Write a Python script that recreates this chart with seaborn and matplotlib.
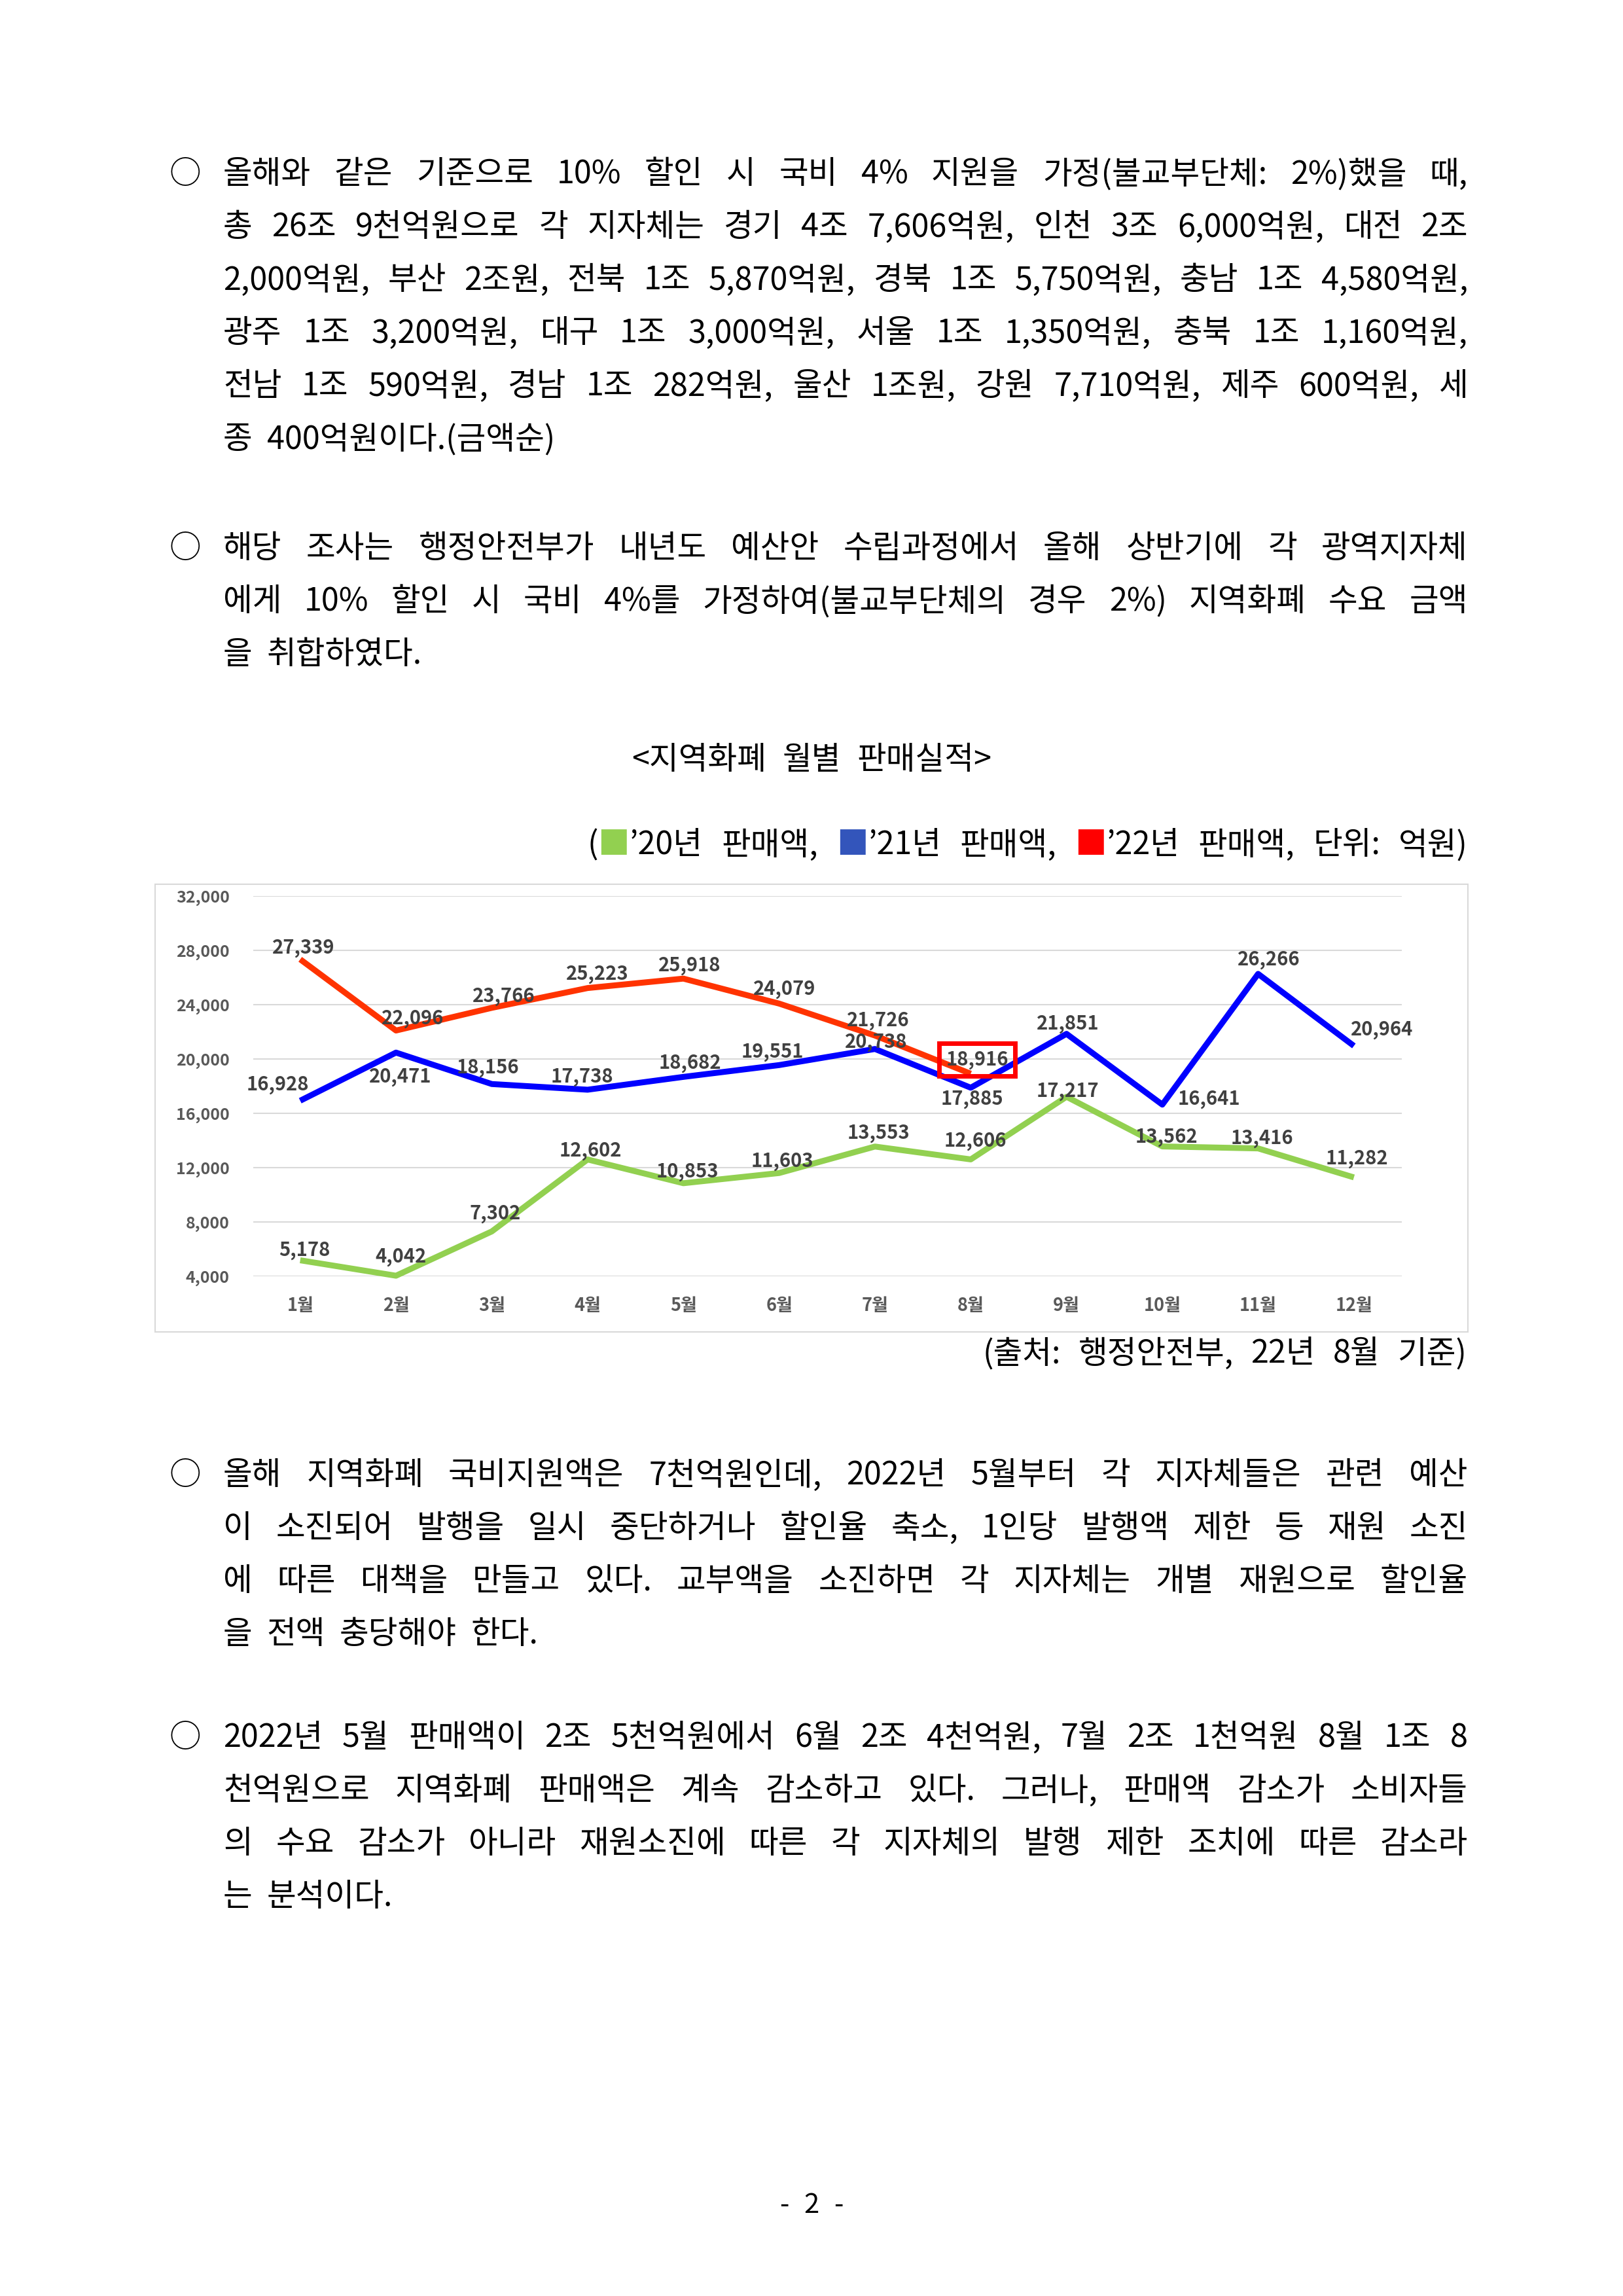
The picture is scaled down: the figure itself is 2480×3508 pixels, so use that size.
import numpy as np
import pandas as pd
import matplotlib
matplotlib.use('Agg')
import matplotlib.pyplot as plt
from matplotlib.patches import Rectangle
import seaborn as sns

# ---- chart data (억원) ----
months = ['1월', '2월', '3월', '4월', '5월', '6월', '7월', '8월', '9월', '10월', '11월', '12월']
sales_2020 = [5178, 4042, 7302, 12602, 10853, 11603, 13553, 12606, 17217, 13562, 13416, 11282]
sales_2021 = [16928, 20471, 18156, 17738, 18682, 19551, 20738, 17885, 21851, 16641, 26266, 20964]
sales_2022 = [27339, 22096, 23766, 25223, 25918, 24079, 21726, 18916]
year_names = ['2020', '2021', '2022']
y_ticks = [4000, 8000, 12000, 16000, 20000, 24000, 28000, 32000]

# ---- page text ----
para1 = [
    '올해와 같은 기준으로 10% 할인 시 국비 4% 지원을 가정(불교부단체: 2%)했을 때,',
    '총 26조 9천억원으로 각 지자체는 경기 4조 7,606억원, 인천 3조 6,000억원, 대전 2조',
    '2,000억원, 부산 2조원, 전북 1조 5,870억원, 경북 1조 5,750억원, 충남 1조 4,580억원,',
    '광주 1조 3,200억원, 대구 1조 3,000억원, 서울 1조 1,350억원, 충북 1조 1,160억원,',
    '전남 1조 590억원, 경남 1조 282억원, 울산 1조원, 강원 7,710억원, 제주 600억원, 세',
    '종 400억원이다.(금액순)',
]
para2 = [
    '해당 조사는 행정안전부가 내년도 예산안 수립과정에서 올해 상반기에 각 광역지자체',
    '에게 10% 할인 시 국비 4%를 가정하여(불교부단체의 경우 2%) 지역화폐 수요 금액',
    '을 취합하였다.',
]
para3 = [
    '올해 지역화폐 국비지원액은 7천억원인데, 2022년 5월부터 각 지자체들은 관련 예산',
    '이 소진되어 발행을 일시 중단하거나 할인율 축소, 1인당 발행액 제한 등 재원 소진',
    '에 따른 대책을 만들고 있다. 교부액을 소진하면 각 지자체는 개별 재원으로 할인율',
    '을 전액 충당해야 한다.',
]
para4 = [
    '2022년 5월 판매액이 2조 5천억원에서 6월 2조 4천억원, 7월 2조 1천억원 8월 1조 8',
    '천억원으로 지역화폐 판매액은 계속 감소하고 있다. 그러나, 판매액 감소가 소비자들',
    '의 수요 감소가 아니라 재원소진에 따른 각 지자체의 발행 제한 조치에 따른 감소라',
    '는 분석이다.',
]
chart_title = '<지역화폐 월별 판매실적>'
legend_years = ['’20년', '’21년', '’22년']
legend_word = '판매액,'
unit_words = ['단위:', '억원)']
source_text = '(출처: 행정안전부, 22년 8월 기준)'
page_no = '- 2 -'

# ---- styles ----
line_colors = {'2020': '#92D050', '2021': '#0000FF', '2022': '#FF3300'}
square_colors = ['#92D050', '#3355BB', '#FF0000']
# label offsets in page pixels (dx right, dy down)
offs_2020 = [(7, -19), (7, -32), (5, -31), (5, -17), (6, -21), (5, -21), (5, -24), (7, -32), (2, -12), (6, -18), (6, -19), (5, -32)]
offs_2021 = [(-34, -28), (7, 34), (-6, -28), (-8, -23), (10, -25), (-10, -24), (2, -14), (2, 14), (2, -19), (71, -12), (16, -25), (43, -28)]
offs_2022 = [(5, -21), (26, -22), (18, -21), (15, -25), (10, -23), (8, -26), (5, -26), (10, -25)]

W, H = 2480, 3508
sns.set_theme(style='white')
plt.rcParams['font.family'] = ['Noto Sans CJK KR', 'DejaVu Sans']

fig = plt.figure(figsize=(W / 100, H / 100), dpi=100)
fig.patch.set_facecolor('white')
renderer = fig.canvas.get_renderer()

BODY = 35
EM = BODY * 100 / 72


def fx(x):
    return x / W


def fy(y):
    return 1 - y / H


def put_line(tokens, y_mid, x0, x1, mode, size=BODY, gap_em=0.45):
    # tokens: list of words, each a list of (text, colour) runs
    em = size * 100 / 72
    base = y_mid + 0.38 * em
    pieces, widths = [], []
    for tok in tokens:
        parts, w = [], 0
        for s, c in tok:
            t = fig.text(0, 0, s, fontsize=size, color=c, ha='left', va='baseline')
            pw = t.get_window_extent(renderer).width
            parts.append((t, pw))
            w += pw
        pieces.append(parts)
        widths.append(w)
    if mode == 'justify' and len(tokens) > 1:
        gap = (x1 - x0 - sum(widths)) / (len(tokens) - 1)
    else:
        gap = gap_em * em
    total = sum(widths) + gap * (len(tokens) - 1)
    if mode == 'right':
        x = x1 - total
    elif mode == 'center':
        x = (x0 + x1) / 2 - total / 2
    else:
        x = x0
    for parts, w in zip(pieces, widths):
        xx = x
        for t, pw in parts:
            t.set_position((fx(xx), fy(base)))
            xx += pw
        x += w + gap


def put_paragraph(lines, y_first, step=81):
    fig.text(fx(283), fy(y_first + 0.38 * EM), '○', fontsize=BODY, ha='center', va='baseline', color='black')
    for i, line in enumerate(lines):
        mode = 'justify' if i < len(lines) - 1 else 'left'
        tokens = [[(w, 'black')] for w in line.split(' ')]
        put_line(tokens, y_first + i * step, 341, 2243, mode)


put_paragraph(para1, 262)
put_paragraph(para2, 834)
put_paragraph(para3, 2250)
put_paragraph(para4, 2651)

# chart title
put_line([[(w, 'black')] for w in chart_title.split(' ')], 1157, 0, 2480, 'center', gap_em=0.5)

# legend line
legend_tokens = []
for i, (yr, col) in enumerate(zip(legend_years, square_colors)):
    first = [('(', 'black')] if i == 0 else []
    legend_tokens.append(first + [('■', col), (yr, 'black')])
    legend_tokens.append([(legend_word, 'black')])
for w in unit_words:
    legend_tokens.append([(w, 'black')])
put_line(legend_tokens, 1287, 897, 2243, 'justify')

# source note
put_line([[(w, 'black')] for w in source_text.split(' ')], 2064, 0, 2241, 'right', gap_em=0.55)

# page number
put_line([[(w, 'black')] for w in page_no.split(' ')], 3365, 0, 2480, 'center', size=30, gap_em=0.55)

# chart frame
fig.add_artist(Rectangle((fx(237), fy(2035)), (2243 - 237) / W, (2035 - 1351) / H,
                         transform=fig.transFigure, fill=False, ec='#D9D9D9', lw=1.5))

# ---- line chart ----
ax = fig.add_axes([fx(387), fy(1950), (2142 - 387) / W, (1950 - 1369) / H])
ax.set_facecolor('none')

frames = []
for name, vals in zip(year_names, [sales_2020, sales_2021, sales_2022]):
    frames.append(pd.DataFrame({'pos': np.arange(len(vals)), 'value': vals, 'year': name}))
df = pd.concat(frames, ignore_index=True)

sns.lineplot(data=df, x='pos', y='value', hue='year', hue_order=year_names,
             palette=line_colors, linewidth=6.5, legend=False, sort=False, ax=ax)
for ln in ax.lines:
    ln.set_clip_on(False)
    ln.set_solid_capstyle('butt')

ax.set_xlim(-0.49, 11.5)
ax.set_ylim(4000, 32000)
ax.set_xticks(np.arange(len(months)))
ax.set_xticklabels(months)
ax.set_yticks(y_ticks)
ax.set_yticklabels([f'{v:,}' for v in y_ticks])
ax.set_xlabel('')
ax.set_ylabel('')
ax.yaxis.grid(True, color='#D9D9D9', lw=1.5)
ax.xaxis.grid(False)
ax.set_axisbelow(True)
sns.despine(ax=ax, left=True, bottom=True)
ax.tick_params(axis='both', length=0)
ax.tick_params(axis='y', pad=26, labelsize=18, labelcolor='#595959')
ax.tick_params(axis='x', pad=22, labelsize=19.5, labelcolor='#595959')
for lbl in ax.get_xticklabels() + ax.get_yticklabels():
    lbl.set_fontweight('bold')

for vals, offs in zip([sales_2020, sales_2021, sales_2022], [offs_2020, offs_2021, offs_2022]):
    for i, (v, (dx, dy)) in enumerate(zip(vals, offs)):
        box = None
        if vals is sales_2022 and i == len(vals) - 1:
            box = dict(boxstyle='square,pad=0.35', fc='none', ec='#FF0000', lw=5)
        ax.annotate(f'{v:,}', (i, v), xytext=(dx * 0.72, -dy * 0.72), textcoords='offset points',
                    ha='center', va='center_baseline', fontsize=21, fontweight='bold',
                    color='#404040', annotation_clip=False, bbox=box, zorder=5)

fig.savefig('out.png', dpi=100, facecolor='white')
